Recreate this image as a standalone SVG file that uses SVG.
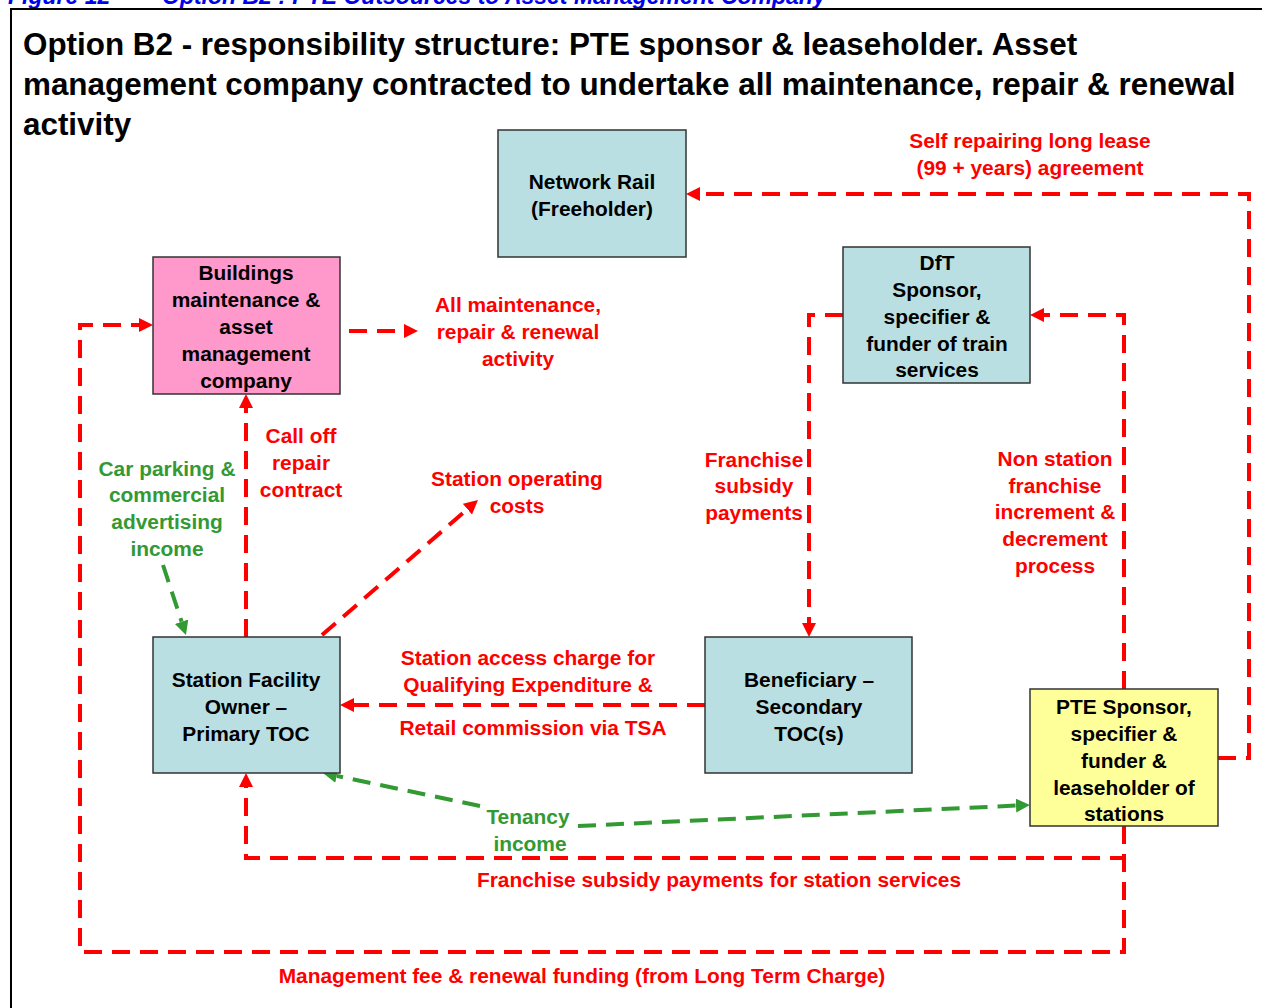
<svg xmlns="http://www.w3.org/2000/svg" width="1262" height="1008" viewBox="0 0 1262 1008">
  <style>
    .node rect { stroke: #333333; stroke-width: 1.5; }
    .blue { fill: #badfe2; }
    .pink { fill: #ff99cc; }
    .yellow { fill: #ffff99; }
    .nt { font-family: "Liberation Sans", Arial, sans-serif; font-weight: bold; font-size: 20.9px; fill: #000000; text-anchor: middle; }
    .lbl { font-family: "Liberation Sans", Arial, sans-serif; font-weight: bold; font-size: 20.9px; text-anchor: middle; }
    .red { fill: #ff0000; }
    .grn { fill: #339933; }
    .title { font-family: "Liberation Sans", Arial, sans-serif; font-weight: bold; font-size: 31.4px; fill: #000000; }
    .cap { font-family: "Liberation Sans", Arial, sans-serif; font-weight: bold; font-style: italic; font-size: 23px; fill: #0000ee; }
    .cr { fill: none; stroke: #ff0000; stroke-width: 4; stroke-dasharray: 18 10; }
    .cg { fill: none; stroke: #339933; stroke-width: 4; stroke-dasharray: 18 10; }
  </style>
  <defs>
    <marker id="ar" markerUnits="userSpaceOnUse" markerWidth="16" markerHeight="16" refX="0" refY="7" orient="auto">
      <path d="M0,0 L14,7 L0,14 z" fill="#ff0000"/>
    </marker>
    <marker id="ag" markerUnits="userSpaceOnUse" markerWidth="16" markerHeight="16" refX="0" refY="7" orient="auto">
      <path d="M0,0 L14,7 L0,14 z" fill="#339933"/>
    </marker>
  </defs>

  <rect width="1262" height="1008" fill="#ffffff"/>

  <!-- figure caption, running off the top edge -->
  <text class="cap" x="8" y="4">Figure 12</text>
  <text class="cap" x="162" y="4">Option B2 : PTE Outsources to Asset Management Company</text>

  <!-- frame -->
  <path d="M11 1010 V9 H1264" fill="none" stroke="#000000" stroke-width="2"/>

  <!-- heading -->
  <text class="title" x="23" y="55">Option B2 - responsibility structure: PTE sponsor &amp; leaseholder. Asset</text>
  <text class="title" x="23" y="95">management company contracted to undertake all maintenance, repair &amp; renewal</text>
  <text class="title" x="23" y="135">activity</text>

  <!-- connectors -->
  <g id="connectors">
    <path class="cr" d="M1218 758 H1249 V194 H700" marker-end="url(#ar)"/>
    <path class="cr" d="M349 331 H404" marker-end="url(#ar)"/>
    <path class="cr" d="M1124 826 V952 H80 V325 H139" marker-end="url(#ar)"/>
    <path class="cr" d="M246 637 V408" marker-end="url(#ar)"/>
    <path class="cr" d="M322 635 L467.4 509.2" marker-end="url(#ar)"/>
    <path class="cg" d="M163 565 L181.6 621.7" marker-end="url(#ag)"/>
    <path class="cr" d="M843 315 H809 V623" marker-end="url(#ar)"/>
    <path class="cr" d="M1124 689 V315 H1044" marker-end="url(#ar)"/>
    <path class="cr" d="M705 705 H354" marker-end="url(#ar)"/>
    <path class="cr" d="M1124 826 V858 H246 V787" marker-end="url(#ar)"/>
    <path class="cg" d="M480 806 L336.7 775.9" marker-end="url(#ag)"/>
    <path class="cg" d="M578 826 L1016 805.6" marker-end="url(#ag)"/>
  </g>

  <!-- connector labels -->
  <g id="labels">
    <text class="lbl red" x="1030" y="148">Self repairing long lease</text>
    <text class="lbl red" x="1030" y="175">(99 + years) agreement</text>

    <text class="lbl red" x="518" y="312">All maintenance,</text>
    <text class="lbl red" x="518" y="339">repair &amp; renewal</text>
    <text class="lbl red" x="518" y="366">activity</text>

    <text class="lbl red" x="301" y="443">Call off</text>
    <text class="lbl red" x="301" y="470">repair</text>
    <text class="lbl red" x="301" y="497">contract</text>

    <text class="lbl grn" x="167" y="476">Car parking &amp;</text>
    <text class="lbl grn" x="167" y="502">commercial</text>
    <text class="lbl grn" x="167" y="529">advertising</text>
    <text class="lbl grn" x="167" y="556">income</text>

    <text class="lbl red" x="517" y="486">Station operating</text>
    <text class="lbl red" x="517" y="513">costs</text>

    <text class="lbl red" x="754" y="467">Franchise</text>
    <text class="lbl red" x="754" y="493">subsidy</text>
    <text class="lbl red" x="754" y="520">payments</text>

    <text class="lbl red" x="1055" y="466">Non station</text>
    <text class="lbl red" x="1055" y="493">franchise</text>
    <text class="lbl red" x="1055" y="519">increment &amp;</text>
    <text class="lbl red" x="1055" y="546">decrement</text>
    <text class="lbl red" x="1055" y="573">process</text>

    <text class="lbl red" x="528" y="665">Station access charge for</text>
    <text class="lbl red" x="528" y="692">Qualifying Expenditure &amp;</text>
    <text class="lbl red" x="533" y="735">Retail commission via TSA</text>

    <text class="lbl grn" x="528" y="824">Tenancy</text>
    <text class="lbl grn" x="530" y="851">income</text>

    <text class="lbl red" x="719" y="887">Franchise subsidy payments for station services</text>
    <text class="lbl red" x="582" y="983">Management fee &amp; renewal funding (from Long Term Charge)</text>
  </g>

  <!-- nodes -->
  <g id="network-rail" class="node">
    <rect class="blue" x="498" y="130" width="188" height="127"/>
    <text class="nt" x="592" y="189">Network Rail</text>
    <text class="nt" x="592" y="216">(Freeholder)</text>
  </g>

  <g id="asset-company" class="node">
    <rect class="pink" x="153" y="257" width="187" height="137"/>
    <text class="nt" x="246" y="280">Buildings</text>
    <text class="nt" x="246" y="307">maintenance &amp;</text>
    <text class="nt" x="246" y="334">asset</text>
    <text class="nt" x="246" y="361">management</text>
    <text class="nt" x="246" y="388">company</text>
  </g>

  <g id="dft" class="node">
    <rect class="blue" x="843" y="247" width="187" height="136"/>
    <text class="nt" x="937" y="270">DfT</text>
    <text class="nt" x="937" y="297">Sponsor,</text>
    <text class="nt" x="937" y="324">specifier &amp;</text>
    <text class="nt" x="937" y="351">funder of train</text>
    <text class="nt" x="937" y="377">services</text>
  </g>

  <g id="station-facility-owner" class="node">
    <rect class="blue" x="153" y="637" width="187" height="136"/>
    <text class="nt" x="246" y="687">Station Facility</text>
    <text class="nt" x="246" y="714">Owner –</text>
    <text class="nt" x="246" y="741">Primary TOC</text>
  </g>

  <g id="secondary-toc" class="node">
    <rect class="blue" x="705" y="637" width="207" height="136"/>
    <text class="nt" x="809" y="687">Beneficiary –</text>
    <text class="nt" x="809" y="714">Secondary</text>
    <text class="nt" x="809" y="741">TOC(s)</text>
  </g>

  <g id="pte" class="node">
    <rect class="yellow" x="1030" y="689" width="188" height="137"/>
    <text class="nt" x="1124" y="714">PTE Sponsor,</text>
    <text class="nt" x="1124" y="741">specifier &amp;</text>
    <text class="nt" x="1124" y="768">funder &amp;</text>
    <text class="nt" x="1124" y="795">leaseholder of</text>
    <text class="nt" x="1124" y="821">stations</text>
  </g>
</svg>
